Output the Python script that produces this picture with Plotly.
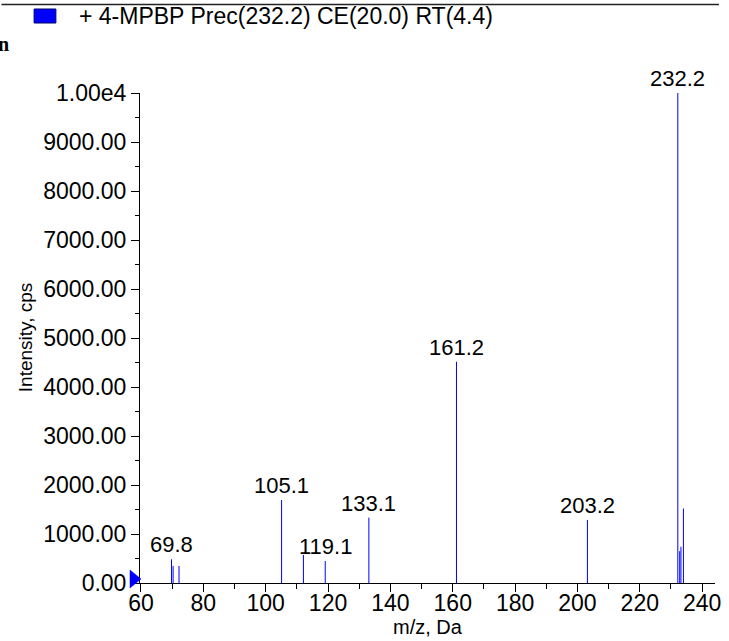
import plotly.graph_objects as go

# ---- data ----
mz = [69.8, 70.3, 72.2, 105.1, 112.1, 119.1, 133.1, 161.2, 203.2, 232.2, 232.8, 233.2, 234.0]
intensity = [484, 345, 347, 1694, 571, 449, 1335, 4516, 1286, 10000, 650, 740, 1520]
label_mz = [69.8, 105.1, 119.1, 133.1, 161.2, 203.2, 232.2]
label_int = [484, 1694, 449, 1335, 4516, 1286, 10000]
label_text = ["69.8", "105.1", "119.1", "133.1", "161.2", "203.2", "232.2"]
y_tickvals = [0, 1000, 2000, 3000, 4000, 5000, 6000, 7000, 8000, 9000, 10000]
y_ticktext = ["0.00", "1000.00", "2000.00", "3000.00", "4000.00", "5000.00",
              "6000.00", "7000.00", "8000.00", "9000.00", "1.00e4"]
x_tickvals = [60, 80, 100, 120, 140, 160, 180, 200, 220, 240]
legend_text = "+ 4-MPBP Prec(232.2) CE(20.0) RT(4.4)"

# ---- layout geometry ----
W, H = 729, 641
L, R, T, B = 140, 8, 93, 58
PW, PH = W - L - R, H - T - B


def px2x(p):
    return (p - L) / PW


def px2y(p):
    return (H - B - p) / PH


xs, ys = [], []
for m, v in zip(mz, intensity):
    xs += [m, m, None]
    ys += [0, v, None]

FONT = "Liberation Sans, Arial, sans-serif"

fig = go.Figure()
fig.add_trace(go.Scatter(x=xs, y=ys, mode="lines",
                         line=dict(color="#0000ff", width=1),
                         hoverinfo="skip", showlegend=False))

annotations = []
for m, v, t in zip(label_mz, label_int, label_text):
    annotations.append(dict(x=m, y=v, xref="x", yref="y", text=t, showarrow=False,
                            xanchor="center", yanchor="bottom", yshift=0,
                            font=dict(family=FONT, size=22, color="black")))

# axis titles
annotations.append(dict(x=px2x(24), y=0.5, xref="paper", yref="paper",
                        text="Intensity, cps", textangle=-90, showarrow=False,
                        xanchor="center", yanchor="middle",
                        font=dict(family=FONT, size=19, color="black")))
annotations.append(dict(x=0.5, y=px2y(627), xref="paper", yref="paper",
                        text="m/z, Da", showarrow=False,
                        xanchor="center", yanchor="middle",
                        font=dict(family=FONT, size=20, color="black")))
# legend text
annotations.append(dict(x=px2x(76), y=px2y(16), xref="paper", yref="paper",
                        text=legend_text, showarrow=False,
                        xanchor="left", yanchor="middle",
                        font=dict(family=FONT, size=23, color="black")))
# clipped text on left edge
annotations.append(dict(x=px2x(10), y=px2y(44), xref="paper", yref="paper",
                        text="<b>n</b>", showarrow=False,
                        xanchor="right", yanchor="middle",
                        font=dict(family="Liberation Serif, serif", size=20, color="black")))

shapes = [
    # top rule
    dict(type="line", xref="paper", yref="paper", x0=px2x(0), x1=px2x(725),
         y0=px2y(4.5), y1=px2y(4.5), line=dict(color="#222222", width=1.3)),
    # legend swatch
    dict(type="rect", xref="paper", yref="paper", x0=px2x(33), x1=px2x(55),
         y0=px2y(9), y1=px2y(23), fillcolor="#0000ff",
         line=dict(color="#000066", width=1)),
    # blue triangle marker at origin
    dict(type="path", xref="paper", yref="paper", xsizemode="pixel", ysizemode="pixel",
         xanchor=px2x(141), yanchor=0, path="M -11,13 L 0,4 L -11,-5 Z",
         fillcolor="#0000ff", line=dict(color="#0000ff", width=0.5), layer="above"),
]

fig.update_layout(
    width=W, height=H,
    margin=dict(l=L, r=R, t=T, b=B),
    paper_bgcolor="white", plot_bgcolor="white",
    showlegend=False,
    annotations=annotations,
    shapes=shapes,
    xaxis=dict(range=[60 - 1 / 3.15, 60 - 1 / 3.15 + PW / 3.15],
               tickvals=x_tickvals, ticks="outside", ticklen=8, tickwidth=1,
               tickcolor="black", showline=True, linecolor="black", linewidth=1,
               showgrid=False, zeroline=False, ticklabelstandoff=-9,
               tickfont=dict(family=FONT, size=23, color="black"),
               minor=dict(dtick=10, ticks="outside", ticklen=5, tickcolor="black", tickwidth=1)),
    yaxis=dict(range=[0, 10000],
               tickvals=y_tickvals, ticktext=y_ticktext, ticks="outside", ticklen=8,
               tickwidth=1, tickcolor="black", showline=True, linecolor="black",
               linewidth=1, showgrid=False, zeroline=False,
               tickfont=dict(family=FONT, size=23, color="black"),
               minor=dict(dtick=500, ticks="outside", ticklen=4, tickcolor="black", tickwidth=1)),
)

fig.write_html("out.html", config={"displayModeBar": False},
               post_script="document.body.style.margin='0px';")
